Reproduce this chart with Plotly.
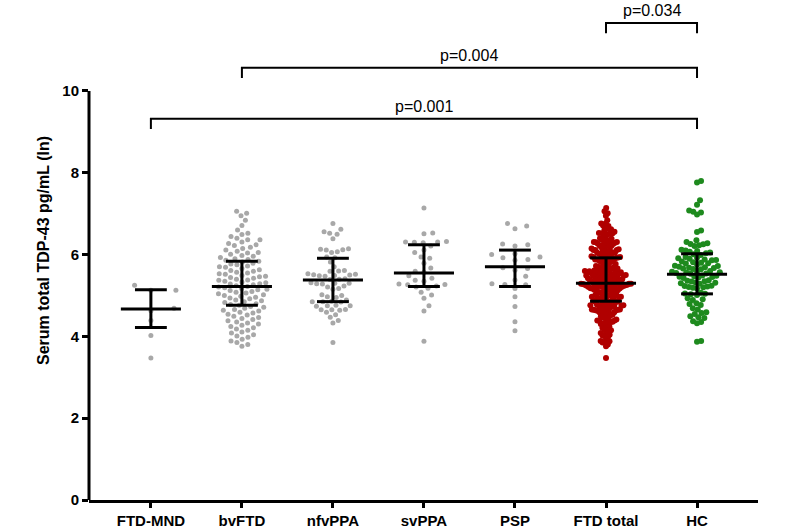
import math
import plotly.graph_objects as go

# groups along the x axis
categories = ["FTD-MND", "bvFTD", "nfvPPA", "svPPA", "PSP", "FTD total", "HC"]

# serum total TDP-43 (ln)
ftd_mnd = [5.25, 5.13, 5.13, 4.69, 4.63, 4.39, 4.02, 3.47]

bvftd = [7.06, 7.01, 6.95, 6.84,
         6.71, 6.60, 6.52, 6.49, 6.44,
         6.40, 6.36, 6.36, 6.31, 6.27, 6.24, 6.22, 6.18, 6.15, 6.11,
         6.08, 6.05, 6.04, 6.01, 5.98, 5.96, 5.93, 5.90, 5.88, 5.86,
         5.84, 5.82, 5.79, 5.77, 5.75, 5.72, 5.70, 5.69, 5.66, 5.63,
         5.61, 5.59, 5.57, 5.55, 5.53, 5.52, 5.49, 5.47, 5.46, 5.44,
         5.42, 5.40, 5.38, 5.37, 5.35, 5.33, 5.31, 5.29, 5.28, 5.26,
         5.24, 5.22, 5.21, 5.19, 5.17, 5.15, 5.14, 5.12, 5.10, 5.08,
         5.06, 5.04, 5.02, 5.00, 4.98, 4.96, 4.94, 4.92, 4.89, 4.87,
         4.85, 4.83, 4.80, 4.78, 4.76, 4.73, 4.71, 4.69, 4.66, 4.64,
         4.62, 4.59, 4.57, 4.54, 4.52, 4.49, 4.46, 4.44, 4.41, 4.38,
         4.35, 4.33, 4.30, 4.27, 4.24, 4.21, 4.18, 4.15, 4.11, 4.08,
         4.04, 4.01, 3.98, 3.93, 3.89, 3.85, 3.80, 3.76]

nfvppa = [6.76, 6.62, 6.56, 6.52, 6.50, 6.39, 6.14, 6.13, 6.12, 6.11,
          6.07, 6.05, 5.94, 5.92, 5.82, 5.70, 5.61, 5.60, 5.59, 5.53,
          5.52, 5.51, 5.50, 5.49, 5.48, 5.47, 5.41, 5.40, 5.39, 5.31,
          5.30, 5.30, 5.29, 5.28, 5.23, 5.21, 5.17, 5.15, 5.02, 5.00,
          4.97, 4.95, 4.89, 4.86, 4.85, 4.85, 4.84, 4.76, 4.75, 4.75,
          4.74, 4.66, 4.65, 4.65, 4.64, 4.59, 4.53, 4.47, 4.39, 4.33,
          3.85]

svppa = [7.14, 6.53, 6.51, 6.32, 6.31, 6.31, 6.30, 6.29, 6.21, 6.11,
         6.05, 5.94, 5.91, 5.79, 5.67, 5.59, 5.57, 5.48, 5.42, 5.37,
         5.35, 5.28, 5.27, 5.26, 5.23, 5.21, 5.18, 5.08, 5.01, 4.93,
         4.75, 4.62, 3.88]

psp = [6.76, 6.70, 6.63, 6.26, 6.24, 6.21, 6.02, 6.00, 5.94, 5.92,
       5.88, 5.86, 5.68, 5.66, 5.62, 5.47, 5.38, 5.29, 5.27, 5.26,
       5.17, 4.97, 4.73, 4.36, 4.14]

# FTD total pools every patient subgroup
ftd_total = ftd_mnd + bvftd + nfvppa + svppa + psp

hc = [7.80, 7.76, 7.33, 7.22, 7.08, 7.05, 7.03, 6.98, 6.59, 6.55, 6.35, 6.31,
      6.28, 6.26, 6.25, 6.23, 6.21,
      6.12, 6.10, 6.09, 6.07, 6.05,
      6.03, 6.01, 5.99,
      5.94, 5.92, 5.91, 5.90, 5.88, 5.87, 5.86,
      5.83, 5.81, 5.80, 5.79, 5.78, 5.76,
      5.73, 5.72, 5.70, 5.69, 5.68, 5.67, 5.66, 5.65, 5.64,
      5.60, 5.59, 5.58, 5.57, 5.56, 5.55, 5.54, 5.53,
      5.49, 5.48, 5.47, 5.46, 5.45, 5.44, 5.43,
      5.37, 5.36, 5.35, 5.34, 5.32, 5.31, 5.30, 5.29,
      5.24, 5.23, 5.22, 5.21, 5.20, 5.19, 5.17,
      5.07, 5.05, 5.04, 5.03, 5.01,
      4.93, 4.91, 4.89,
      4.81, 4.79, 4.77,
      4.69, 4.66,
      4.59, 4.57, 4.55,
      4.49, 4.47, 4.45,
      4.37, 4.35, 4.32,
      3.89, 3.87]

groups = [ftd_mnd, bvftd, nfvppa, svppa, psp, ftd_total, hc]

# centre line and error bar ends as drawn
centre = [4.67, 5.22, 5.38, 5.55, 5.70, 5.30, 5.52]
upper = [5.14, 5.84, 5.91, 6.24, 6.11, 5.92, 6.02]
lower = [4.22, 4.76, 4.85, 5.22, 5.22, 4.86, 5.04]

# significance brackets
bracket_from = [0, 1, 5]
bracket_to = [6, 6, 6]
bracket_y = [9.32, 10.57, 11.66]
bracket_text = ["p=0.001", "p=0.004", "p=0.034"]

colors = ["#a8a8a8"] * 5 + ["#b00000", "#1e8a1e"]
sizes = [5, 5, 5, 5, 5, 6, 6]

PX_X = 91.0    # pixels per category
PX_Y = 41.07   # pixels per y unit
HALF_W = 25.0  # half width of each dot column in px


def swarm(vals, diam):
    ys = [v * PX_Y for v in vals]
    xs = [0.0] * len(vals)
    placed = []
    for k in sorted(range(len(vals)), key=lambda i: ys[i]):
        y = ys[k]
        near = [(px, py) for px, py in placed if abs(py - y) < diam]
        cands = [0.0]
        for px, py in near:
            dx = math.sqrt(diam ** 2 - (py - y) ** 2)
            cands += [px + dx, px - dx]
        cands.sort(key=abs)
        for c in cands:
            if all((c - px) ** 2 + (y - py) ** 2 >= diam ** 2 - 1e-6 for px, py in near):
                xs[k] = c
                break
        placed.append((xs[k], y))
    m = max(abs(x) for x in xs)
    if m > 0:
        xs = [x * HALF_W / m for x in xs]
    return [x / PX_X for x in xs]


fig = go.Figure()

for i, vals in enumerate(groups):
    offs = swarm(vals, 6.5)
    fig.add_trace(go.Scatter(
        x=[i + o for o in offs], y=vals, mode="markers",
        marker=dict(size=sizes[i], color=colors[i], line=dict(width=0)),
        hoverinfo="y", name=categories[i],
    ))

# centre line with error bars
lx, ly = [], []
for i in range(len(categories)):
    lx += [i - 0.33, i + 0.33, None, i, i, None,
           i - 0.175, i + 0.175, None, i - 0.175, i + 0.175, None]
    ly += [centre[i], centre[i], None, lower[i], upper[i], None,
           upper[i], upper[i], None, lower[i], lower[i], None]
fig.add_trace(go.Scatter(x=lx, y=ly, mode="lines",
                         line=dict(color="black", width=3), hoverinfo="skip"))

# brackets
bx, by = [], []
for a, b, h in zip(bracket_from, bracket_to, bracket_y):
    bx += [a, a, b, b, None]
    by += [h - 0.25, h, h, h - 0.25, None]
fig.add_trace(go.Scatter(x=bx, y=by, mode="lines",
                         line=dict(color="black", width=2), hoverinfo="skip"))
for a, b, h, t in zip(bracket_from, bracket_to, bracket_y, bracket_text):
    fig.add_annotation(x=(a + b) / 2, y=h, text=t, showarrow=False,
                       yanchor="bottom", yshift=2,
                       font=dict(family="Arial, Liberation Sans", size=16, color="black"))

# y axis line only up to 10
fig.add_shape(type="line", xref="paper", yref="y", x0=0, x1=0, y0=0, y1=10,
              line=dict(color="black", width=3))

fig.update_layout(
    width=800, height=530,
    margin=dict(l=89, r=42, t=1, b=28),
    paper_bgcolor="white", plot_bgcolor="white",
    showlegend=False,
    font=dict(family="Arial, Liberation Sans", color="black"),
)
fig.update_xaxes(
    range=[-0.68, 6.67], tickvals=list(range(len(categories))), ticktext=categories,
    showline=True, linewidth=3, linecolor="black", ticks="outside", ticklen=5,
    tickwidth=3, tickcolor="black", showgrid=False, zeroline=False,
    tickfont=dict(size=15, weight="bold"),
)
fig.update_yaxes(
    range=[0, 12.2], tickvals=[0, 2, 4, 6, 8, 10],
    showline=False, ticks="outside", ticklen=6, tickwidth=3, tickcolor="black",
    showgrid=False, zeroline=False,
    tickfont=dict(size=15, weight="bold"),
    title=dict(text="Serum total TDP-43 pg/mL (ln)", standoff=8,
               font=dict(size=16, weight="bold")),
)

# drop the page's default body margin so the figure sits at the corner
fig.write_html("out.html", config={"displayModeBar": False},
               post_script="document.body.style.margin='0';")
